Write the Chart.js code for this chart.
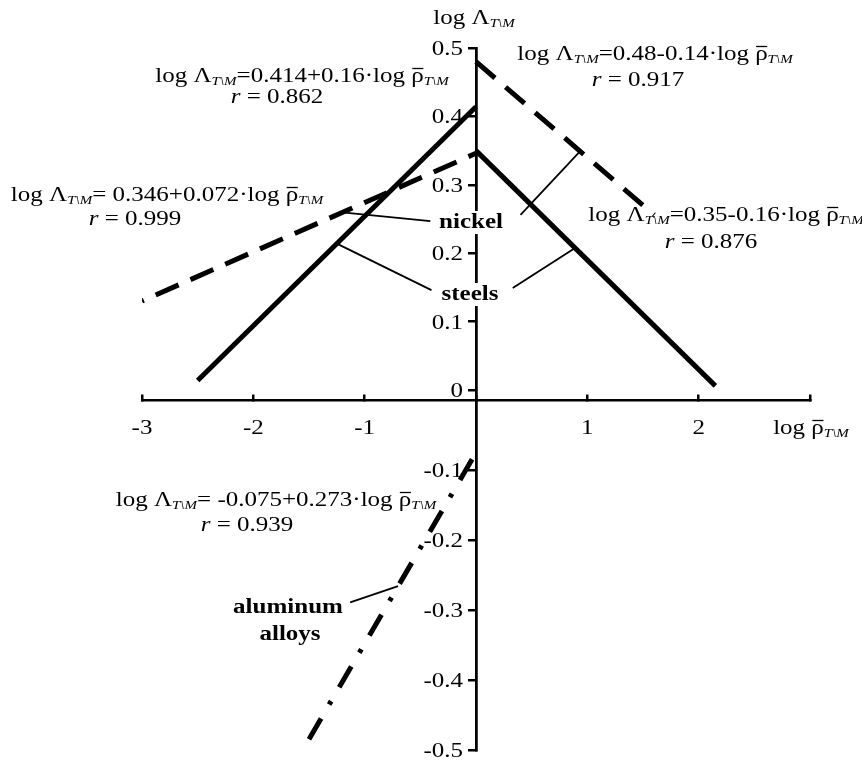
<!DOCTYPE html>
<html>
<head>
<meta charset="utf-8">
<script src="https://cdn.jsdelivr.net/npm/chart.js@4/dist/chart.umd.min.js"></script>
<style>
  html, body { margin: 0; padding: 0; background: #fff; }
  canvas { display: block; }
</style>
</head>
<body>
<canvas id="c" width="862" height="761"></canvas>
<script>
// Axis ticks
const xTicks = [-3, -2, -1, 0, 1, 2, 3];
const xTickLabels = ['-3', '-2', '-1', '', '1', '2', ''];
const yTicksUpper = [0, 0.1, 0.2, 0.3, 0.4, 0.5];
const yTickLabelsUpper = ['0', '0.1', '0.2', '0.3', '0.4', '0.5'];
const yTicksLower = [-0.5, -0.4, -0.3, -0.2, -0.1];
const yTickLabelsLower = ['-0.5', '-0.4', '-0.3', '-0.2', '-0.1'];

// Regression lines, log Λ vs log ρ̄ (end points of each fitted segment)
const steelsRiseX = [-2.5, 0];
const steelsRiseY = [0.014, 0.414];
const steelsFallX = [0, 2.15];
const steelsFallY = [0.35, 0.006];
const nickelRiseX = [-3, 0];
const nickelRiseY = [0.13, 0.346];
const nickelFallX = [0, 1.6];
const nickelFallY = [0.48, 0.256];
const aluminumX = [-1.5, 0];
const aluminumY = [-0.4845, -0.075];

// Leader lines from the material labels to their lines
const leaderNickelA = [[-1.2, 0.2596], [-0.41, 0.247]];
const leaderNickelB = [[0.40, 0.256], [0.934, 0.349]];
const leaderSteelsA = [[-1.25, 0.214], [-0.40, 0.146]];
const leaderSteelsB = [[0.33, 0.149], [0.89, 0.2076]];
const leaderAluminum = [[-1.13, -0.289], [-0.70, -0.266]];

const pts = (xs, ys) => xs.map((x, i) => ({ x, y: ys[i] }));
const pairPts = (pp) => pp.map(p => ({ x: p[0], y: p[1] }));

const SX = 1.25;              // horizontal stretch of the lettering
const SERIF = '"Liberation Serif", "Times New Roman", serif';
const FONTS = {
  m: '20px ' + SERIF,
  i: 'italic 20px ' + SERIF,
  s: 'italic 12px ' + SERIF,
  o: '20px ' + SERIF,
  b: 'bold 20px ' + SERIF
};

function drawRich(ctx, parts, cx, baseline, align) {
  const items = [];
  let w = 0;
  for (const [t, k] of parts) {
    ctx.font = FONTS[k];
    const m = ctx.measureText(t).width;
    items.push({ t, k, m });
    w += m;
  }
  let left = cx - w * SX / 2;
  if (align === 'right') left = cx - w * SX;
  if (align === 'left') left = cx;
  ctx.save();
  ctx.translate(left, baseline);
  ctx.scale(SX, 1);
  ctx.fillStyle = '#000';
  ctx.textBaseline = 'alphabetic';
  ctx.textAlign = 'left';
  let x = 0;
  for (const it of items) {
    ctx.font = FONTS[it.k];
    const dy = it.k === 's' ? 3 : 0;
    ctx.fillText(it.t, x, dy);
    if (it.k === 'o') {
      ctx.beginPath();
      ctx.lineWidth = 1.3;
      ctx.strokeStyle = '#000';
      ctx.moveTo(x + 0.8, -13.5);
      ctx.lineTo(x + it.m - 0.3, -13.5);
      ctx.stroke();
    }
    x += it.m;
  }
  ctx.restore();
  return { left, right: left + w * SX };
}

const SUB = 'T\\M';
const formula = (rest) => [['log Λ', 'm'], [SUB, 's'], [rest, 'm'], ['ρ', 'o'], [SUB, 's']];
const rLine = (v) => [['r', 'i'], [' = ' + v, 'm']];

const annotations = [
  { parts: formula('=0.414+0.16·log '), cx: 302, base: 82 },
  { parts: rLine('0.862'), cx: 277, base: 103 },
  { parts: formula('=0.48-0.14·log '), cx: 655, base: 60 },
  { parts: rLine('0.917'), cx: 638, base: 86 },
  { parts: formula('= 0.346+0.072·log '), cx: 167, base: 201 },
  { parts: rLine('0.999'), cx: 135, base: 225 },
  { parts: formula('=0.35-0.16·log '), cx: 726, base: 221 },
  { parts: rLine('0.876'), cx: 711, base: 248 },
  { parts: formula('= -0.075+0.273·log '), cx: 276, base: 506 },
  { parts: rLine('0.939'), cx: 247, base: 531 }
];

const labels = [
  { text: 'nickel', cx: 471, base: 228, clear: true },
  { text: 'steels', cx: 470, base: 300, clear: true },
  { text: 'aluminum', cx: 288, base: 613, clear: false },
  { text: 'alloys', cx: 290, base: 640, clear: false }
];

const textPlugin = {
  id: 'textLayer',
  afterDraw(chart) {
    const ctx = chart.ctx;
    const sx = chart.scales.x, sy = chart.scales.y, sy2 = chart.scales.y2;
    const axisX = sx.getPixelForValue(0);

    // tick labels
    yTicksUpper.forEach((v, i) => {
      drawRich(ctx, [[yTickLabelsUpper[i], 'm']], axisX - 13, sy.getPixelForValue(v) + 7, 'right');
    });
    yTicksLower.forEach((v, i) => {
      drawRich(ctx, [[yTickLabelsLower[i], 'm']], axisX - 13, sy2.getPixelForValue(v) + 7, 'right');
    });
    const xAxisY = sy2.getPixelForValue(0);
    xTicks.forEach((v, i) => {
      if (xTickLabels[i]) drawRich(ctx, [[xTickLabels[i], 'm']], sx.getPixelForValue(v), xAxisY + 34);
    });

    // axis titles
    drawRich(ctx, [['log Λ', 'm'], [SUB, 's']], 474, 24);
    drawRich(ctx, [['log ', 'm'], ['ρ', 'o'], [SUB, 's']], 811, xAxisY + 34);

    // equations
    for (const a of annotations) drawRich(ctx, a.parts, a.cx, a.base);

    // material labels
    for (const l of labels) {
      ctx.font = FONTS.b;
      const w = ctx.measureText(l.text).width * SX;
      if (l.clear) {
        ctx.fillStyle = '#fff';
        ctx.fillRect(l.cx - w / 2 - 3, l.base - 17, w + 6, 23);
      }
      drawRich(ctx, [[l.text, 'b']], l.cx, l.base);
    }
  }
};

const thick = 5;
const lineDS = (data, yAxisID, dash, offset) => ({
  data, yAxisID, showLine: true, borderColor: '#000', borderWidth: thick,
  borderDash: dash || [], borderDashOffset: offset || 0, borderCapStyle: 'butt',
  pointRadius: 0, fill: false, tension: 0
});
const leaderDS = (data, yAxisID) => ({
  data, yAxisID, showLine: true, borderColor: '#000', borderWidth: 1.8,
  pointRadius: 0, fill: false, tension: 0
});

const axisStyle = {
  grid: { drawOnChartArea: false, drawTicks: true, tickLength: 7, color: '#000', lineWidth: 2.5 },
  border: { display: true, color: '#000', width: 2.5 },
  ticks: { display: false }
};

new Chart(document.getElementById('c'), {
  type: 'scatter',
  data: {
    datasets: [
      lineDS(pts(steelsRiseX, steelsRiseY), 'y'),
      lineDS(pts(steelsFallX, steelsFallY), 'y'),
      lineDS(pts(nickelRiseX, nickelRiseY), 'y', [25, 13], 23),
      lineDS(pts(nickelFallX, nickelFallY), 'y', [25, 14], 0),
      lineDS(pts(aluminumX, aluminumY), 'y2', [24, 16, 4, 16], 0),
      leaderDS(pairPts(leaderNickelA), 'y'),
      leaderDS(pairPts(leaderNickelB), 'y'),
      leaderDS(pairPts(leaderSteelsA), 'y'),
      leaderDS(pairPts(leaderSteelsB), 'y'),
      leaderDS(pairPts(leaderAluminum), 'y2')
    ]
  },
  options: {
    responsive: false,
    animation: false,
    devicePixelRatio: 1,
    layout: { padding: { left: 142, right: 52, top: 48, bottom: 11 } },
    plugins: { legend: { display: false }, tooltip: { enabled: false }, title: { display: false } },
    scales: {
      x: Object.assign({}, axisStyle, {
        type: 'linear', min: -3, max: 3, position: { y2: 0 },
        grid: Object.assign({}, axisStyle.grid, { tickLength: -7 }),
        afterBuildTicks: s => { s.ticks = xTicks.map(v => ({ value: v })); }
      }),
      y: Object.assign({}, axisStyle, {
        type: 'linear', min: -0.52632, max: 0.5, position: { x: 0 },
        afterBuildTicks: s => { s.ticks = yTicksUpper.map(v => ({ value: v })); }
      }),
      y2: Object.assign({}, axisStyle, {
        type: 'linear', min: -0.5, max: 0.502857, position: { x: 0 },
        afterBuildTicks: s => { s.ticks = yTicksLower.map(v => ({ value: v })); }
      })
    }
  },
  plugins: [textPlugin]
});
</script>
</body>
</html>
